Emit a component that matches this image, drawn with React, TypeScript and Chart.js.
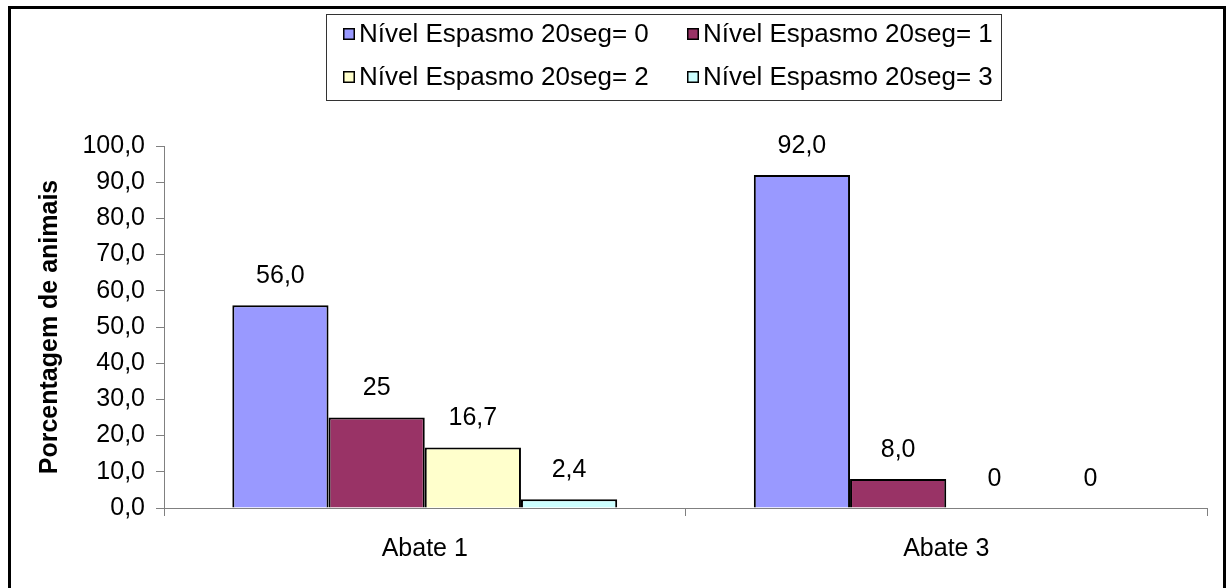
import React, { useEffect, useRef } from "react";
import { Chart, registerables } from "chart.js";

Chart.register(...registerables);

const categories = ["Abate 1", "Abate 3"];
const seriesNames = [
  "Nível Espasmo 20seg= 0",
  "Nível Espasmo 20seg= 1",
  "Nível Espasmo 20seg= 2",
  "Nível Espasmo 20seg= 3",
];
const level0 = [56.0, 92.0];
const level1 = [25, 8.0];
const level2 = [16.7, 0];
const level3 = [2.4, 0];
const label0 = ["56,0", "92,0"];
const label1 = ["25", "8,0"];
const label2 = ["16,7", "0"];
const label3 = ["2,4", "0"];
const colors = ["#9999FF", "#993366", "#FFFFCC", "#CCFFFF"];
const yTicks = { min: 0, max: 100, step: 10 };
const yTitle = "Porcentagem de animais";

const FONT = "'Liberation Sans', Arial, sans-serif";

export default function App() {
  const ref = useRef<HTMLCanvasElement | null>(null);

  useEffect(() => {
    document.body.style.overflow = "hidden";
    const canvas = ref.current!;
    const values = [level0, level1, level2, level3];
    const labels = [label0, label1, label2, label3];

    const frame = {
      id: "frame",
      afterDraw(chart: any) {
        const ctx = chart.ctx;
        ctx.save();
        ctx.strokeStyle = "#000";
        ctx.lineWidth = 3;
        ctx.strokeRect(1.5, 2.5, 1215, 640);
        ctx.restore();
      },
    };

    const valueLabels = {
      id: "valueLabels",
      afterDatasetsDraw(chart: any) {
        const ctx = chart.ctx;
        ctx.save();
        ctx.font = `25px ${FONT}`;
        ctx.fillStyle = "#000";
        ctx.textAlign = "center";
        ctx.textBaseline = "middle";
        chart.data.datasets.forEach((ds: any, di: number) => {
          const meta = chart.getDatasetMeta(di);
          meta.data.forEach((el: any, i: number) => {
            ctx.fillText(labels[di][i], el.x, el.y - 29);
          });
        });
        ctx.restore();
      },
    };

    const boxLegend = {
      id: "boxLegend",
      afterDraw(chart: any) {
        const ctx = chart.ctx;
        ctx.save();
        ctx.strokeStyle = "#333";
        ctx.lineWidth = 1;
        ctx.strokeRect(318.5, 9.5, 675, 86);
        ctx.font = `26px ${FONT}`;
        ctx.textBaseline = "middle";
        ctx.textAlign = "left";
        const colX = [335, 679];
        const rowY = [29, 72];
        chart.data.datasets.forEach((ds: any, di: number) => {
          const cx = colX[di % 2];
          const cy = rowY[Math.floor(di / 2)];
          ctx.fillStyle = ds.backgroundColor;
          ctx.fillRect(cx, cy - 6, 12, 12);
          ctx.strokeStyle = "#000";
          ctx.lineWidth = 1.5;
          ctx.strokeRect(cx + 0.75, cy - 5.25, 10.5, 10.5);
          ctx.fillStyle = "#000";
          ctx.fillText(ds.label, cx + 16, cy + 1);
        });
        ctx.restore();
      },
    };

    const chart = new Chart(canvas, {
      type: "bar",
      data: {
        labels: categories,
        datasets: values.map((v, i) => ({
          label: seriesNames[i],
          data: v,
          backgroundColor: colors[i],
          borderColor: "#000",
          borderWidth: 2,
          borderSkipped: "bottom",
          categoryPercentage: 0.738,
          barPercentage: 1,
        })),
      },
      options: {
        responsive: false,
        animation: false,
        layout: { padding: { top: 141, right: 19, bottom: 0, left: 0 } },
        plugins: {
          legend: { display: false },
          tooltip: { enabled: false },
        },
        scales: {
          x: {
            afterFit(scale: any) {
              scale.height = 80;
            },
            grid: {
              offset: true,
              drawOnChartArea: false,
              drawTicks: true,
              tickLength: 8,
              color: "#808080",
            },
            border: { color: "#808080", width: 1 },
            ticks: {
              color: "#000",
              font: { family: FONT, size: 25 },
              padding: 18,
            },
          },
          y: {
            min: yTicks.min,
            max: yTicks.max,
            afterFit(scale: any) {
              scale.width = 156;
            },
            grid: {
              drawOnChartArea: false,
              drawTicks: true,
              tickLength: 8,
              color: "#808080",
            },
            border: { color: "#808080", width: 1 },
            ticks: {
              stepSize: yTicks.step,
              color: "#000",
              padding: 11,
              font: { family: FONT, size: 25 },
              callback: (v: any) => Number(v).toFixed(1).replace(".", ","),
            },
            title: {
              display: true,
              text: yTitle,
              color: "#000",
              font: { family: FONT, size: 25, weight: "bold" },
              padding: { top: 27, bottom: 0 },
            },
          },
        },
      },
      plugins: [frame, valueLabels, boxLegend],
    });
    return () => chart.destroy();
  }, []);

  return (
    <div style={{ position: "absolute", left: 8, top: 5, width: 1218, height: 583 }}>
      <canvas ref={ref} width={1218} height={583} />
    </div>
  );
}
